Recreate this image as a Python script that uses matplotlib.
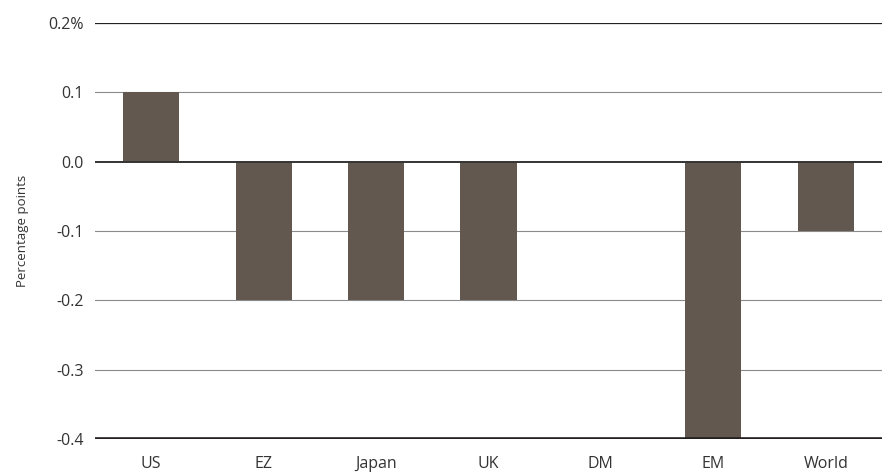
import matplotlib
matplotlib.use("Agg")
import matplotlib.pyplot as plt

categories = ["US", "EZ", "Japan", "UK", "DM", "EM", "World"]
values = [0.1, -0.2, -0.2, -0.2, 0.0, -0.4, -0.1]
yticks = [0.2, 0.1, 0.0, -0.1, -0.2, -0.3, -0.4]
ytick_labels = ["0.2%", "0.1", "0.0", "-0.1", "-0.2", "-0.3", "-0.4"]

plt.rcParams["font.family"] = ["Open Sans", "DejaVu Sans"]

fig = plt.figure(figsize=(8.82, 4.75), dpi=100)
ax = fig.add_axes([95 / 882, 1 - 439 / 475, 787 / 882, 416 / 475])

x = range(len(categories))
ax.bar(x, values, width=0.5, color="#635850", zorder=3)

ax.set_xlim(-0.5, len(categories) - 0.5)
ax.set_ylim(-0.4, 0.2)
ax.set_yticks(yticks)
ax.set_yticklabels(ytick_labels, fontsize=11.5, color="#333333")
ax.set_xticks(list(x))
ax.set_xticklabels(categories, fontsize=11.5, color="#333333")
ax.tick_params(axis="x", length=0, pad=12)
ax.tick_params(axis="y", length=0, pad=8)

for s in ax.spines.values():
    s.set_visible(False)

# horizontal guide lines
for v in yticks:
    if v == 0.2:
        ax.axhline(v, color="#222222", lw=0.9, zorder=1)
    elif v == 0.0:
        ax.axhline(v, color="#333333", lw=1.4, zorder=4)
    elif v == -0.4:
        ax.axhline(v, color="#231f1f", lw=2.6, zorder=4)
    else:
        ax.axhline(v, color="#8a8a8a", lw=0.8, zorder=1)

ax.set_ylabel("Percentage points", fontsize=9.5, color="#333333", labelpad=14)

fig.savefig("out.png", dpi=100)
